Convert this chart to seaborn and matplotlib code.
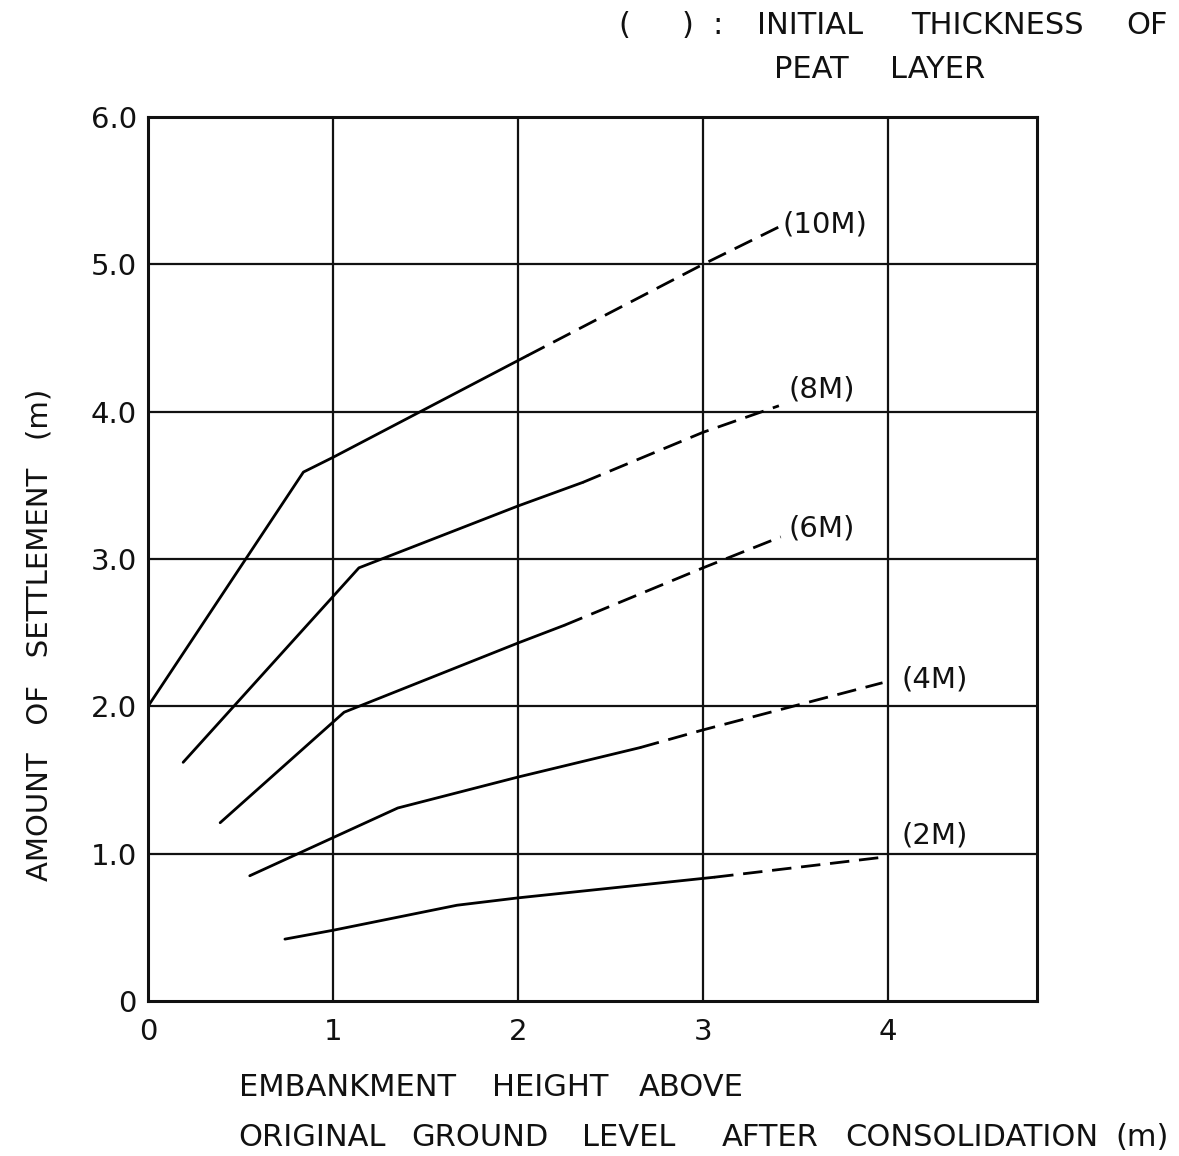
import matplotlib
matplotlib.use("Agg")
import matplotlib.pyplot as plt
import seaborn as sns
import pandas as pd

# ---- data ----
series_names = ["(10M)", "(8M)", "(6M)", "(4M)", "(2M)"]

x_10_solid = [0.00, 0.84, 1.00, 2.05]
y_10_solid = [2.00, 3.59, 3.69, 4.38]
x_10_dash = [2.05, 3.00, 3.42]
y_10_dash = [4.38, 5.00, 5.26]

x_8_solid = [0.19, 1.14, 2.00, 2.35]
y_8_solid = [1.62, 2.94, 3.36, 3.52]
x_8_dash = [2.35, 3.00, 3.41]
y_8_dash = [3.52, 3.86, 4.04]

x_6_solid = [0.39, 1.06, 2.00, 2.25]
y_6_solid = [1.21, 1.96, 2.43, 2.55]
x_6_dash = [2.25, 3.00, 3.42]
y_6_dash = [2.55, 2.94, 3.15]

x_4_solid = [0.55, 1.35, 2.00, 2.66]
y_4_solid = [0.85, 1.31, 1.52, 1.72]
x_4_dash = [2.66, 3.00, 3.97]
y_4_dash = [1.72, 1.84, 2.16]

x_2_solid = [0.74, 1.00, 1.67, 2.00, 3.06]
y_2_solid = [0.42, 0.48, 0.65, 0.70, 0.84]
x_2_dash = [3.06, 4.00]
y_2_dash = [0.84, 0.98]

x_ticks = [0, 1, 2, 3, 4]
x_tick_labels = ["0", "1", "2", "3", "4"]
y_ticks = [0, 1, 2, 3, 4, 5, 6]
y_tick_labels = ["0", "1.0", "2.0", "3.0", "4.0", "5.0", "6.0"]

label_x = [3.43, 3.46, 3.46, 4.07, 4.07]
label_y = [5.27, 4.15, 3.21, 2.18, 1.12]

header_line1 = ["(", ")", ":", "INITIAL", "THICKNESS", "OF"]
header_line2 = ["PEAT", "LAYER"]
xlabel_line1 = ["EMBANKMENT", "HEIGHT", "ABOVE"]
xlabel_line2 = ["ORIGINAL", "GROUND", "LEVEL", "AFTER", "CONSOLIDATION", "(m)"]
ylabel_text = "AMOUNT   OF   SETTLEMENT   (m)"

# ---- build tidy frames ----
solid_sets = [(x_10_solid, y_10_solid), (x_8_solid, y_8_solid), (x_6_solid, y_6_solid),
              (x_4_solid, y_4_solid), (x_2_solid, y_2_solid)]
dash_sets = [(x_10_dash, y_10_dash), (x_8_dash, y_8_dash), (x_6_dash, y_6_dash),
             (x_4_dash, y_4_dash), (x_2_dash, y_2_dash)]

rows_s, rows_d = [], []
for name, (xs, ys) in zip(series_names, solid_sets):
    for i, (a, b) in enumerate(zip(xs, ys)):
        rows_s.append({"series": name, "order": i, "x": a, "y": b})
for name, (xs, ys) in zip(series_names, dash_sets):
    for i, (a, b) in enumerate(zip(xs, ys)):
        rows_d.append({"series": name, "order": i, "x": a, "y": b})
df_s = pd.DataFrame(rows_s)
df_d = pd.DataFrame(rows_d)

sns.set_style("white")
plt.rcParams["font.family"] = ["DejaVu Sans"]

W, H = 1179, 1156
fig = plt.figure(figsize=(W / 100, H / 100), dpi=100)
left, right, top, bottom = 148, 1037, 117, 1001
ax = fig.add_axes([left / W, 1 - bottom / H, (right - left) / W, (bottom - top) / H])

pal = {n: "black" for n in series_names}
sns.lineplot(data=df_s, x="x", y="y", hue="series", units="series", estimator=None,
             sort=False, palette=pal, linewidth=2.0, legend=False, ax=ax)
sns.lineplot(data=df_d, x="x", y="y", hue="series", units="series", estimator=None,
             sort=False, palette=pal, linewidth=2.0, legend=False, ax=ax,
             dashes=False)
n_solid = len(series_names)
for ln in ax.get_lines()[n_solid:]:
    ln.set_dashes((7, 3.5))

ax.set_xlim(0, 4.805)
ax.set_ylim(0, 5.99)
ax.set_xticks(x_ticks)
ax.set_xticklabels(x_tick_labels)
ax.set_yticks(y_ticks)
ax.set_yticklabels(y_tick_labels)
ax.tick_params(axis="both", length=0, labelsize=21, colors="#111111")
ax.tick_params(axis="x", pad=12)
ax.tick_params(axis="y", pad=8)
ax.set_xlabel("")
ax.set_ylabel("")

for v in [1, 2, 3, 4]:
    ax.axvline(v, color="#111111", linewidth=1.6, zorder=1)
for v in [1, 2, 3, 4, 5]:
    ax.axhline(v, color="#111111", linewidth=1.6, zorder=1)
for sp in ax.spines.values():
    sp.set_color("#111111")
    sp.set_linewidth(2.2)

for name, lx, ly in zip(series_names, label_x, label_y):
    ax.text(lx, ly, name, fontsize=21, ha="left", va="center", color="#111111")


def place_words(words, centers_px, center_y_px, size):
    for w, cx in zip(words, centers_px):
        fig.text(cx / W, 1 - center_y_px / H, w, fontsize=size, ha="center",
                 va="center", color="#111111")


# header text
place_words(header_line1, [624, 688, 717, 810, 997, 1147], 26, 22)
place_words(header_line2, [811, 938], 70, 22)

# y label
fig.text(40 / W, 1 - 635 / H, ylabel_text, fontsize=21, rotation=90,
         ha="center", va="center", color="#111111")

# x label (two lines)
place_words(xlabel_line1, [347, 550, 691], 1087, 22)
place_words(xlabel_line2, [312, 480, 629, 770, 972, 1142], 1138, 22)

fig.savefig("out.png", dpi=100, facecolor="white")
